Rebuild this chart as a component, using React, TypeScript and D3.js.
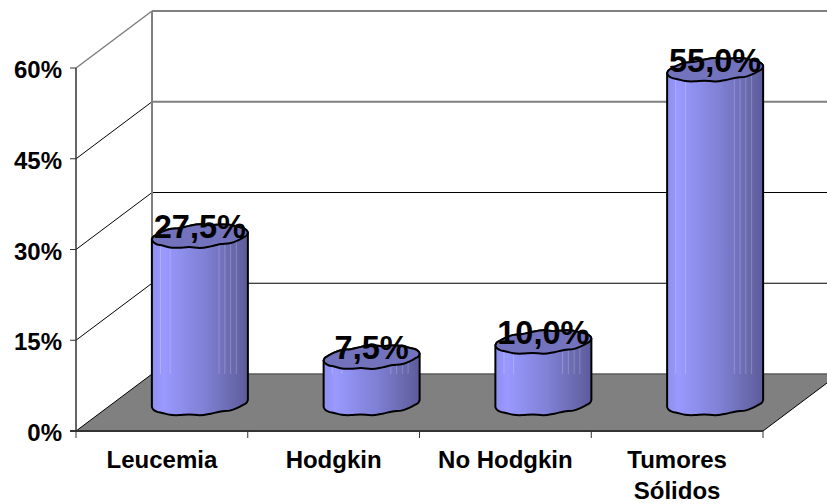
import React from "react";
import * as d3 from "d3";

const categories = ["Leucemia", "Hodgkin", "No Hodgkin", "Tumores|Sólidos"];
const values = [27.5, 7.5, 10.0, 55.0];
const valueLabels = ["27,5%", "7,5%", "10,0%", "55,0%"];
const yTicks = [0, 15, 30, 45, 60];
// Small irregularities of the cylinder outlines, in pixels per sample.
const rimRipple = [0, 0.6, -0.4, 0.5, 0.9, -0.5, 0.3, 0.8, -0.6, 0.2, 0.7, -0.3, 0.5, -0.2, 0];
// Fractions of the cylinder width where the pale shading seams sit.
const seams = [0.09, 0.19, 0.7, 0.76, 0.82, 0.88];

const W = 827;
const H = 504;
const FRONT_LEFT = 76;
const FRONT_RIGHT = 763;
const FRONT_BOTTOM = 431;
const FRONT_TOP = 68;
const DX = 76;
const DY = -57;
const RX = 48;
const RY = 11;
const TILT = 3.5;
const FONT = "'Liberation Sans', Arial, sans-serif";

const y = d3.scaleLinear().domain([0, 60]).range([FRONT_BOTTOM, FRONT_TOP]);
const x = d3.scaleBand<number>().domain(d3.range(categories.length)).range([FRONT_LEFT, FRONT_RIGHT]);
const barCenter = (i: number) => x(i)! + x.bandwidth() / 2 + DX / 2;

// Tilted ellipse arc, sampled coarsely so the cylinder ends look hand-faceted.
function arcPoints(cx: number, cy: number, a0: number, a1: number) {
  return rimRipple.map((r, i) => {
    const a = a0 + ((a1 - a0) * i) / (rimRipple.length - 1);
    const c = Math.cos(a);
    return [cx + RX * c, cy + (RY + r) * Math.sin(a) - TILT * c] as [number, number];
  });
}

const line = d3.line();
const curve = d3.line().curve(d3.curveCatmullRom);

function Cylinder({ i }: { i: number }) {
  const cx = barCenter(i);
  const baseY = y(0) + DY / 2 + 1;
  const topY = y(values[i]) + DY / 2;
  const bottomArc = arcPoints(cx, baseY, 0, Math.PI);
  const upperArc = arcPoints(cx, topY, Math.PI, 2 * Math.PI);
  const lowerArc = arcPoints(cx, topY, 0, Math.PI);
  // Upper rim left to right, down the right side, bottom rim right to left, back up the left side.
  const body =
    curve(upperArc)! +
    "L" + bottomArc[0].join(",") +
    curve(bottomArc)!.replace(/^M[^CL]*/, "") +
    "Z";
  const cap = curve(upperArc)! + curve(lowerArc)!.replace(/^M[^CL]*/, "") + "Z";
  const seamBottom = y(0) + DY;
  return (
    <g>
      <path d={body} fill="url(#cyl)" />
      {seams.map((s) => {
        const sx = cx - RX + s * 2 * RX;
        return (
          <line key={s} x1={sx} x2={sx} y1={topY} y2={seamBottom} stroke="#fff" strokeOpacity={0.22} strokeWidth={1} />
        );
      })}
      <path d={body} fill="none" stroke="#000" strokeWidth={2} strokeLinejoin="round" />
      <path d={cap} fill="#7272bd" stroke="#000" strokeWidth={2} strokeLinejoin="round" />
    </g>
  );
}

export default function App() {
  const floor = [
    [FRONT_LEFT, FRONT_BOTTOM],
    [FRONT_LEFT + DX, FRONT_BOTTOM + DY],
    [FRONT_RIGHT + DX, FRONT_BOTTOM + DY],
    [FRONT_RIGHT, FRONT_BOTTOM],
  ] as [number, number][];
  return (
    <svg
      width={W}
      height={H}
      viewBox={`0 0 ${W} ${H}`}
      style={{ position: "fixed", left: 0, top: 0, background: "#fff" }}
    >
      <defs>
        <linearGradient id="cyl" x1="0" x2="1" y1="0" y2="0">
          <stop offset="0" stopColor="#8f8fef" />
          <stop offset="0.12" stopColor="#9999ff" />
          <stop offset="0.55" stopColor="#8080d5" />
          <stop offset="1" stopColor="#5c5c99" />
        </linearGradient>
      </defs>

      {/* side and back walls */}
      {yTicks.filter((t) => t > 0).map((t) => {
        const gray = t >= 45;
        return (
          <g key={t}>
            <line
              x1={FRONT_LEFT}
              y1={y(t)}
              x2={FRONT_LEFT + DX}
              y2={y(t) + DY}
              stroke={t === 60 ? "#808080" : "#000"}
              strokeWidth={t === 60 ? 1.5 : 1}
            />
            <line
              x1={FRONT_LEFT + DX}
              y1={y(t) + DY}
              x2={W}
              y2={y(t) + DY}
              stroke={gray ? "#808080" : "#000"}
              strokeWidth={gray ? 2 : 1}
            />
          </g>
        );
      })}
      <line x1={FRONT_LEFT + DX} y1={y(60) + DY} x2={FRONT_LEFT + DX} y2={y(0) + DY} stroke="#808080" strokeWidth={2} />

      {/* floor */}
      <path d={line(floor)! + "Z"} fill="#808080" stroke="none" />
      <line x1={FRONT_LEFT + DX} y1={y(0) + DY} x2={W} y2={y(0) + DY} stroke="#5a5a5a" strokeWidth={1.5} />
      <line x1={FRONT_RIGHT} y1={FRONT_BOTTOM} x2={FRONT_RIGHT + DX} y2={FRONT_BOTTOM + DY} stroke="#000" strokeWidth={1} />
      <line x1={FRONT_LEFT} y1={FRONT_BOTTOM} x2={FRONT_LEFT + DX} y2={FRONT_BOTTOM + DY} stroke="#000" strokeWidth={1} />

      {/* cylinders */}
      {values.map((_, i) => (
        <Cylinder key={i} i={i} />
      ))}

      {/* axes */}
      <line x1={FRONT_LEFT} y1={FRONT_TOP} x2={FRONT_LEFT} y2={FRONT_BOTTOM} stroke="#333" strokeWidth={1.5} />
      <line x1={FRONT_LEFT - 6} y1={FRONT_BOTTOM} x2={FRONT_RIGHT} y2={FRONT_BOTTOM} stroke="#333" strokeWidth={2} />
      {yTicks.map((t) => (
        <g key={t}>
          <line x1={FRONT_LEFT - 6} y1={y(t)} x2={FRONT_LEFT} y2={y(t)} stroke="#333" />
          <text x={62} y={y(t) + 10} textAnchor="end" fontFamily={FONT} fontWeight="bold" fontSize={24}>
            {t}%
          </text>
        </g>
      ))}
      {d3.range(categories.length + 1).map((i) => {
        const tx = FRONT_LEFT + i * x.step();
        return <line key={i} x1={tx} y1={FRONT_BOTTOM} x2={tx} y2={FRONT_BOTTOM + 7} stroke="#333" />;
      })}
      {categories.map((c, i) => {
        const cx = x(i)! + x.bandwidth() / 2;
        return c.split("|").map((part, k) => (
          <text key={part} x={cx} y={468 + k * 31} textAnchor="middle" fontFamily={FONT} fontWeight="bold" fontSize={24}>
            {part}
          </text>
        ));
      })}

      {/* value labels */}
      {values.map((v, i) => (
        <text
          key={i}
          x={barCenter(i)}
          y={y(v) + DY / 2 + 2}
          textAnchor="middle"
          fontFamily={FONT}
          fontWeight="bold"
          fontSize={32.5}
        >
          {valueLabels[i]}
        </text>
      ))}
    </svg>
  );
}
